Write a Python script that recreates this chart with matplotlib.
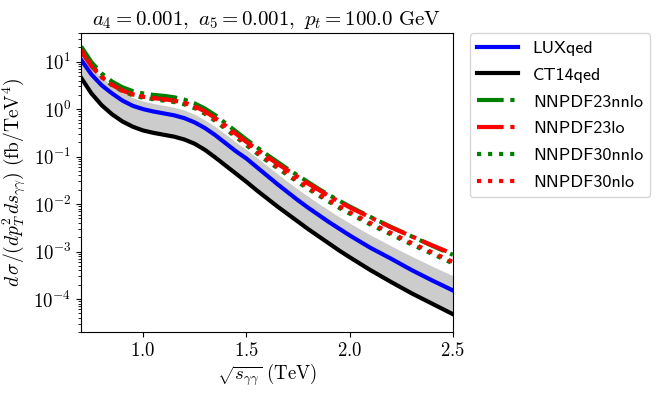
import matplotlib
matplotlib.use("Agg")
from matplotlib import pyplot as plt
from matplotlib.ticker import FixedLocator, FixedFormatter, LogFormatterSciNotation
import numpy as np

plt.rcParams['mathtext.fontset'] = 'cm'
plt.rcParams['font.family'] = 'serif'
plt.rcParams['font.serif'] = ['cmr10', 'DejaVu Serif']
plt.rcParams['axes.formatter.use_mathtext'] = True

# sqrt(s_gg) in TeV
sqrt_s = [0.70, 0.75, 0.80, 0.85, 0.90, 0.95, 1.00, 1.05, 1.10, 1.15, 1.20, 1.25, 1.30,
          1.35, 1.40, 1.45, 1.50, 1.55, 1.60, 1.65, 1.70, 1.75, 1.80, 1.85, 1.90, 1.95,
          2.00, 2.10, 2.20, 2.30, 2.40, 2.50]

# cross sections, given as log10(fb/TeV^4)
lux_qed = [1.04, 0.73, 0.50, 0.33, 0.18, 0.07, 0.0, -0.05, -0.09, -0.13, -0.19, -0.28, -0.40,
           -0.55, -0.72, -0.89, -1.04, -1.22, -1.40, -1.58, -1.75, -1.92, -2.08, -2.23, -2.38,
           -2.52, -2.66, -2.92, -3.15, -3.39, -3.61, -3.82]
ct14_qed = [0.66, 0.33, 0.08, -0.11, -0.26, -0.37, -0.45, -0.50, -0.54, -0.58, -0.64, -0.73,
            -0.86, -1.02, -1.19, -1.36, -1.53, -1.71, -1.88, -2.05, -2.21, -2.37, -2.53, -2.68,
            -2.83, -2.98, -3.12, -3.39, -3.64, -3.88, -4.10, -4.32]
band_up = [1.19, 0.89, 0.66, 0.49, 0.35, 0.24, 0.17, 0.12, 0.08, 0.04, -0.02, -0.11, -0.23,
           -0.37, -0.53, -0.70, -0.85, -1.02, -1.19, -1.36, -1.53, -1.69, -1.84, -1.99, -2.13,
           -2.27, -2.40, -2.65, -2.88, -3.10, -3.31, -3.51]
nnpdf23_nnlo = [1.32, 0.99, 0.75, 0.58, 0.46, 0.38, 0.33, 0.30, 0.28, 0.25, 0.20, 0.12, 0.01,
                -0.13, -0.30, -0.47, -0.64, -0.80, -0.96, -1.11, -1.26, -1.40, -1.54, -1.68,
                -1.81, -1.93, -2.05, -2.27, -2.48, -2.68, -2.88, -3.07]
nnpdf23_lo = [1.22, 0.90, 0.67, 0.51, 0.39, 0.31, 0.26, 0.23, 0.21, 0.18, 0.14, 0.06, -0.05,
              -0.19, -0.35, -0.52, -0.69, -0.84, -1.00, -1.15, -1.29, -1.43, -1.57, -1.70,
              -1.83, -1.95, -2.07, -2.28, -2.49, -2.68, -2.87, -3.05]
nnpdf30_nnlo = [1.27, 0.93, 0.68, 0.50, 0.38, 0.29, 0.24, 0.21, 0.18, 0.15, 0.10, 0.02, -0.10,
                -0.25, -0.42, -0.59, -0.76, -0.93, -1.09, -1.24, -1.39, -1.54, -1.68, -1.82,
                -1.95, -2.08, -2.20, -2.43, -2.64, -2.85, -3.05, -3.25]
nnpdf30_nlo = [1.25, 0.92, 0.68, 0.51, 0.39, 0.31, 0.26, 0.23, 0.20, 0.17, 0.12, 0.04, -0.08,
               -0.22, -0.39, -0.56, -0.73, -0.90, -1.06, -1.21, -1.36, -1.51, -1.65, -1.79,
               -1.92, -2.05, -2.17, -2.40, -2.61, -2.82, -3.02, -3.22]

x_ticks = [1.0, 1.5, 2.0, 2.5]
y_ticks = [1e-4, 1e-3, 1e-2, 1e-1, 1e0, 1e1]


def lin(v):
    return 10.0 ** np.array(v)


fig = plt.figure(figsize=(6.65, 3.94), dpi=100)
ax = fig.add_axes([0.122, 0.157, 0.559, 0.759])

ax.fill_between(sqrt_s, lin(ct14_qed), lin(band_up), color='0.8', lw=0)
ax.plot(sqrt_s, lin(lux_qed), color='blue', lw=3, label='LUXqed')
ax.plot(sqrt_s, lin(ct14_qed), color='black', lw=3, label='CT14qed')
ax.plot(sqrt_s, lin(nnpdf23_nnlo), color='green', lw=3, ls='-.', label='NNPDF23nnlo')
ax.plot(sqrt_s, lin(nnpdf23_lo), color='red', lw=3, ls='-.', label='NNPDF23lo')
ax.plot(sqrt_s, lin(nnpdf30_nnlo), color='green', lw=3, ls=':', label='NNPDF30nnlo')
ax.plot(sqrt_s, lin(nnpdf30_nlo), color='red', lw=3, ls=':', label='NNPDF30nlo')

ax.set_yscale('log')
ax.set_xlim(0.7, 2.5)
ax.set_ylim(2e-5, 40)
ax.yaxis.set_major_locator(FixedLocator(y_ticks))
ax.yaxis.set_major_formatter(LogFormatterSciNotation())
ax.xaxis.set_major_locator(FixedLocator(x_ticks))
ax.xaxis.set_major_formatter(FixedFormatter(['$%.1f$' % v for v in x_ticks]))
ax.tick_params(labelsize=13.5)

ax.set_title(r'$a_4=0.001,\ a_5=0.001,\ p_t=100.0\ \mathrm{GeV}$', fontsize=15)
ax.set_xlabel(r'$\sqrt{s_{\gamma\gamma}}\ \mathrm{(TeV)}$', fontsize=13.5, labelpad=1)
ax.set_ylabel(r'$d\,\sigma/(dp_T^2\,ds_{\gamma\gamma})\ \mathrm{(fb/TeV^4)}$', fontsize=14)

ax.legend(loc='upper left', bbox_to_anchor=(1.045, 1.0), prop={'family': 'cmss10', 'size': 13},
          borderaxespad=0, handlelength=2.3, labelspacing=0.62)

fig.savefig('out.png', dpi=100)
